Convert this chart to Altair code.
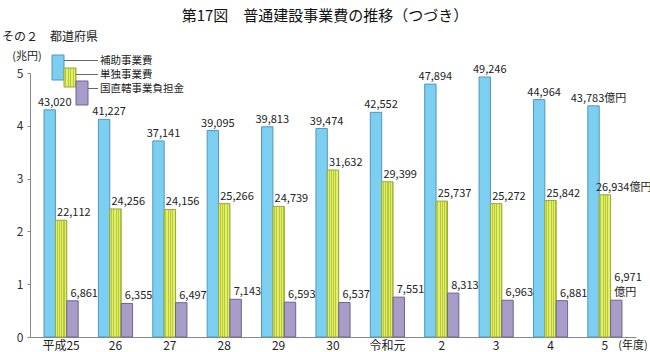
import altair as alt
import pandas as pd

years = ["平成25", "26", "27", "28", "29", "30", "令和元", "2", "3", "4", "5"]
hojo = [43020, 41227, 37141, 39095, 39813, 39474, 42552, 47894, 49246, 44964, 43783]
tandoku = [22112, 24256, 24156, 25266, 24739, 31632, 29399, 25737, 25272, 25842, 26934]
chokkatsu = [6861, 6355, 6497, 7143, 6593, 6537, 7551, 8313, 6963, 6881, 6971]
series_names = ["補助事業費", "単独事業費", "国直轄事業負担金"]
last_suffix = ["億円", "億円", "\n億円"]

rows = []
for si, (name, vals) in enumerate(zip(series_names, [hojo, tandoku, chokkatsu])):
    for yi, (yr, v) in enumerate(zip(years, vals)):
        lab = f"{v:,}"
        if yi == len(years) - 1:
            lab += last_suffix[si]
        rows.append({"year": yr, "series": name, "value": v, "label": lab,
                     "last": yi == len(years) - 1})
df = pd.DataFrame(rows)

FONT = "Noto Sans CJK JP"
TXT = "#222222"
LFS = 11

x_enc = alt.X("year:N", sort=years, title=None,
              scale=alt.Scale(paddingInner=0.372, paddingOuter=0.258),
              axis=alt.Axis(labelAngle=0, ticks=False, domainColor="#888888",
                            labelFont=FONT, labelFontSize=12, labelColor=TXT,
                            labelPadding=3))
y_enc = alt.Y("v:Q", title=None,
              scale=alt.Scale(domain=[0, 5], nice=False),
              axis=alt.Axis(values=[0, 1, 2, 3, 4, 5], grid=False, tickSize=3,
                            tickColor="#888888", domainColor="#888888",
                            labelFont=FONT, labelFontSize=12, labelColor="#333333",
                            labelPadding=4))
xo = alt.XOffset("series:N", sort=series_names,
                 scale=alt.Scale(domain=series_names, paddingInner=0, paddingOuter=0))

base = alt.Chart(df).transform_calculate(v="datum.value / 10000")

stops = []
n = 5
for k in range(n):
    a = k / n
    b = (k + 0.55) / n
    c = (k + 1) / n
    stops += [
        {"offset": a, "color": "#e2ef6e"},
        {"offset": b, "color": "#e2ef6e"},
        {"offset": b, "color": "#b9ca34"},
        {"offset": c, "color": "#b9ca34"},
    ]
stripe = {"gradient": "linear", "x1": 0, "x2": 1, "y1": 0, "y2": 0, "stops": stops}


def sel(i):
    return base.transform_filter(alt.datum.series == series_names[i])


bar_blue = sel(0).mark_bar(fill="#7dcff2", stroke="#4f98bd", strokeWidth=1).encode(
    x=x_enc, y=y_enc, xOffset=xo)
bar_green = sel(1).mark_bar(fill=stripe, stroke="#98a838", strokeWidth=1).encode(
    x=x_enc, y=y_enc, xOffset=xo)
bar_purple = sel(2).mark_bar(fill="#a89cc8", stroke="#6e6494", strokeWidth=1).encode(
    x=x_enc, y=y_enc, xOffset=xo)


def labels(i, align, dx, dy=-2, only_last=None):
    c = sel(i)
    if only_last is True:
        c = c.transform_filter("datum.last")
    elif only_last is False:
        c = c.transform_filter("!datum.last")
    return c.mark_text(font=FONT, fontSize=LFS, color=TXT, align=align,
                       baseline="bottom", dx=dx, dy=dy, lineBreak="\n",
                       lineHeight=15).encode(
        x=x_enc, y=y_enc, xOffset=xo, text="label:N")


lab_blue = labels(0, "center", 5)
lab_green = labels(1, "left", -4, only_last=False)
lab_green_last = labels(1, "left", -9, only_last=True)
lab_purple = labels(2, "left", -2, only_last=False)
lab_purple_last = labels(2, "left", -2, dy=-17, only_last=True)

# custom legend (decoration, pixel positions relative to plot area)
leg = alt.Chart(pd.DataFrame({"a": [0]}))
lg_blue = leg.mark_rect(fill="#7dcff2", stroke="#4f98bd", strokeWidth=1).encode(
    x=alt.value(22), x2=alt.value(34), y=alt.value(-18), y2=alt.value(7))
lg_green = leg.mark_rect(fill=stripe, stroke="#98a838", strokeWidth=1).encode(
    x=alt.value(34), x2=alt.value(46), y=alt.value(-5), y2=alt.value(14))
lg_purple = leg.mark_rect(fill="#a89cc8", stroke="#6e6494", strokeWidth=1).encode(
    x=alt.value(46), x2=alt.value(58), y=alt.value(8), y2=alt.value(32))
LY = [-12.5, 1.5, 15.5]
ln1 = leg.mark_rule(color="#666666", strokeWidth=1).encode(
    x=alt.value(34), x2=alt.value(68), y=alt.value(LY[0]))
ln2 = leg.mark_rule(color="#666666", strokeWidth=1).encode(
    x=alt.value(46), x2=alt.value(68), y=alt.value(LY[1]))
ln3 = leg.mark_rule(color="#666666", strokeWidth=1).encode(
    x=alt.value(58), x2=alt.value(68), y=alt.value(LY[2]))


def legtext(i, yy):
    return leg.mark_text(font=FONT, fontSize=10.5, color=TXT, align="left",
                         baseline="middle").encode(
        x=alt.value(70), y=alt.value(yy), text=alt.value(series_names[i]))


lg_t1 = legtext(0, LY[0])
lg_t2 = legtext(1, LY[1])
lg_t3 = legtext(2, LY[2])

title = leg.mark_text(font=FONT, fontSize=15, color="#111111", align="center",
                      baseline="middle").encode(
    x=alt.value(295), y=alt.value(-57), text=alt.value("第17図　普通建設事業費の推移（つづき）"))
subtitle = leg.mark_text(font=FONT, fontSize=12, color=TXT, align="left",
                         baseline="middle").encode(
    x=alt.value(-28), y=alt.value(-36), text=alt.value("その２　都道府県"))
unit = leg.mark_text(font=FONT, fontSize=11, color=TXT, align="center",
                     baseline="middle").encode(
    x=alt.value(-3), y=alt.value(-16), text=alt.value("(兆円)"))
nendo = leg.mark_text(font=FONT, fontSize=11, color=TXT, align="center",
                      baseline="middle").encode(
    x=alt.value(603), y=alt.value(273), text=alt.value("(年度)"))

chart = alt.layer(
    bar_blue, bar_green, bar_purple, lab_blue, lab_green, lab_green_last,
    lab_purple, lab_purple_last,
    lg_blue, lg_green, lg_purple, ln1, ln2, ln3, lg_t1, lg_t2, lg_t3,
    title, subtitle, unit, nendo
).properties(
    width=606, height=264,
    padding={"left": 30, "top": 73, "right": 14, "bottom": 15},
    autosize=alt.AutoSizeParams(type="none"),
    background="white",
).configure_view(stroke=None)

chart.save("out.html", embed_options={"renderer": "svg", "actions": False})
